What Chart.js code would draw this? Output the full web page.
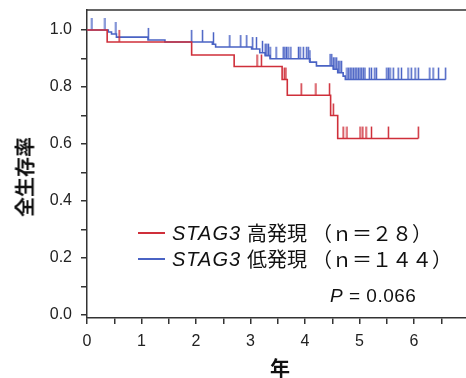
<!DOCTYPE html>
<html>
<head>
<meta charset="utf-8">
<script src="https://cdn.jsdelivr.net/npm/chart.js@4"></script>
<style>
  html, body { margin: 0; padding: 0; background: #fff; }
  #wrap { position: relative; width: 466px; height: 378px; overflow: hidden; }
  .txt { position: absolute; white-space: nowrap; color: #111; font-family: "Liberation Sans", "Noto Sans CJK JP", sans-serif; }
  .cjk { font-family: "Noto Sans CJK JP", sans-serif; }
  .row { position: absolute; left: 0; width: 466px; height: 24px; font-size: 20px; line-height: 24px; }
  .row span { position: absolute; top: 0; }
  .swatch { position: absolute; left: 138px; top: 11px; width: 27px; height: 2px; }
  .gene { font-style: italic; letter-spacing: 1px; }
</style>
</head>
<body>
<div id="wrap">
  <canvas id="km" width="466" height="378"></canvas>

  <div class="txt cjk" style="left:24px; top:177px; font-size:20px; font-weight:bold; transform:translate(-50%,-50%) rotate(-90deg);">全生存率</div>
  <div class="txt cjk" style="left:280px; top:367px; font-size:20px; font-weight:bold; transform:translate(-50%,-50%);">年</div>

  <div class="row txt" style="top:221px;">
    <div class="swatch" style="background:#cf2f3a;"></div>
    <span class="gene" style="left:172px;">STAG3</span>
    <span class="cjk" style="left:247px;">高発現</span>
    <span class="cjk" style="left:312px;">（ｎ＝２８）</span>
  </div>
  <div class="row txt" style="top:247px;">
    <div class="swatch" style="background:#4a63c4;"></div>
    <span class="gene" style="left:172px;">STAG3</span>
    <span class="cjk" style="left:247px;">低発現</span>
    <span class="cjk" style="left:312px;">（ｎ＝１４４）</span>
  </div>
  <div class="txt" style="left:330px; top:286px; font-size:19px; line-height:20px; letter-spacing:0.5px;"><i>P</i> = 0.066</div>
</div>
<script>
// Kaplan-Meier steps (years, survival)
const redTimes = [0, 0.37, 1.92, 2.70, 3.58, 3.675, 4.47, 4.60, 6.08];
const redSurv  = [1.0, 0.958, 0.912, 0.872, 0.826, 0.771, 0.700, 0.619, 0.619];
const redCensor = [0.59, 3.12, 3.20, 3.62, 3.65, 3.93, 4.20, 4.45, 4.52, 4.70, 4.77,
                   5.01, 5.06, 5.12, 5.22, 5.53, 6.08];

const blueTimes = [0, 0.39, 0.45, 0.54, 1.12, 1.43, 2.30, 2.36, 3.02, 3.17, 3.27, 3.36,
                   4.09, 4.21, 4.52, 4.60, 4.70, 4.74, 6.58];
const blueSurv  = [1.0, 0.993, 0.986, 0.975, 0.965, 0.958, 0.950, 0.940, 0.933, 0.920, 0.910, 0.899,
                   0.887, 0.874, 0.862, 0.850, 0.838, 0.826, 0.826];
const blueCensor = [0.09, 0.33, 0.53, 1.125, 1.92, 2.12, 2.32, 2.62, 2.82, 2.93, 3.04, 3.11,
                    3.22, 3.27, 3.30, 3.33, 3.36, 3.47, 3.60, 3.63, 3.66, 3.69, 3.74,
                    3.88, 3.91, 3.97, 4.03, 4.06, 4.09, 4.46, 4.49, 4.52, 4.55, 4.58, 4.61,
                    4.64, 4.67, 4.77, 4.80, 4.83, 4.86, 4.89, 4.92, 4.95, 4.98, 5.01, 5.04,
                    5.07, 5.10, 5.18, 5.22, 5.28, 5.31, 5.50, 5.53, 5.56, 5.62, 5.71, 5.77,
                    5.89, 5.95, 6.02, 6.08, 6.29, 6.35, 6.45, 6.58];

const xTicks = [0, 0.5, 1, 1.5, 2, 2.5, 3, 3.5, 4, 4.5, 5, 5.5, 6, 6.5];
const yTicks = [0, 0.1, 0.2, 0.3, 0.4, 0.5, 0.6, 0.7, 0.8, 0.9, 1.0];

const RED = '#cf2f3a';
const BLUE = '#4a63c4';
const AXIS = '#333';

function levelAt(times, surv, t) {
    let s = surv[0];
    for (let i = 0; i < times.length; i++) {
        if (times[i] <= t) s = surv[i];
    }
    return s;
}

// small upward tick used as censor mark
function censorMark(color) {
    const c = document.createElement('canvas');
    c.width = 3;
    c.height = 26;
    const g = c.getContext('2d');
    g.strokeStyle = color;
    g.lineWidth = 1.5;
    g.beginPath();
    g.moveTo(1.5, 1);
    g.lineTo(1.5, 13);
    g.stroke();
    return c;
}

const frame = {
    id: 'frame',
    afterDraw(chart) {
        const { ctx, chartArea: a } = chart;
        ctx.save();
        ctx.strokeStyle = AXIS;
        ctx.lineWidth = 1.5;
        ctx.beginPath();
        ctx.moveTo(a.left, a.top);
        ctx.lineTo(a.right, a.top);
        ctx.stroke();
        ctx.restore();
    }
};

const axisGrid = { drawOnChartArea: false, drawTicks: true, tickLength: 6, color: AXIS, lineWidth: 1.5 };
const axisBorder = { display: true, color: AXIS, width: 1.5 };
const tickFont = { family: 'Liberation Sans', size: 16 };

new Chart(document.getElementById('km'), {
    type: 'line',
    data: {
        datasets: [
            {
                data: redTimes.map((t, i) => ({ x: t, y: redSurv[i] })),
                borderColor: RED, borderWidth: 1.6, stepped: true,
                pointRadius: 0, fill: false
            },
            {
                type: 'scatter',
                data: redCensor.map(t => ({ x: t, y: levelAt(redTimes, redSurv, t) })),
                pointStyle: censorMark(RED), pointRadius: 3
            },
            {
                data: blueTimes.map((t, i) => ({ x: t, y: blueSurv[i] })),
                borderColor: BLUE, borderWidth: 1.6, stepped: true,
                pointRadius: 0, fill: false
            },
            {
                type: 'scatter',
                data: blueCensor.map(t => ({ x: t, y: levelAt(blueTimes, blueSurv, t) })),
                pointStyle: censorMark(BLUE), pointRadius: 3
            }
        ]
    },
    options: {
        responsive: false,
        animation: false,
        events: [],
        layout: { autoPadding: false, padding: { top: 10, right: 0, bottom: 0, left: 0 } },
        plugins: { legend: { display: false }, tooltip: { enabled: false } },
        scales: {
            x: {
                type: 'linear',
                min: 0,
                max: 6.954,
                afterFit: s => { s.height = 60; s.paddingLeft = 0; s.paddingRight = 0; },
                afterBuildTicks: s => { s.ticks = xTicks.map(v => ({ value: v })); },
                ticks: {
                    autoSkip: false, maxRotation: 0, padding: 8, color: '#222', font: tickFont,
                    callback: v => Number.isInteger(v) ? String(v) : ''
                },
                grid: axisGrid,
                border: axisBorder
            },
            y: {
                min: -0.0105,
                max: 1.070,
                afterFit: s => { s.width = 87; s.paddingTop = 0; s.paddingBottom = 0; },
                afterBuildTicks: s => { s.ticks = yTicks.map(v => ({ value: v })); },
                ticks: {
                    autoSkip: false, padding: 9, color: '#222', font: tickFont,
                    callback: v => Math.round(v * 10) % 2 === 0 ? v.toFixed(1) : ''
                },
                grid: axisGrid,
                border: axisBorder
            }
        }
    },
    plugins: [frame]
});
</script>
</body>
</html>
